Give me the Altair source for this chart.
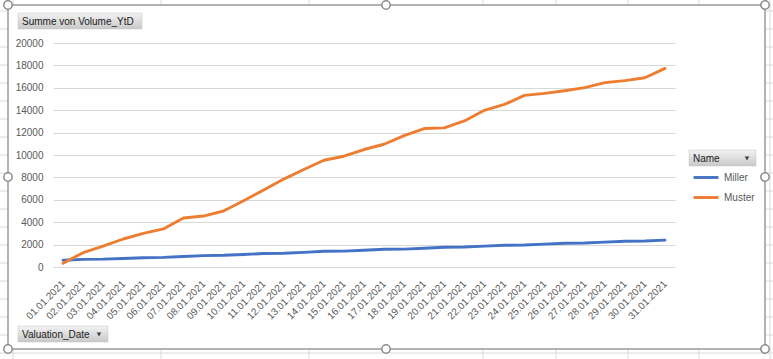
import altair as alt
import pandas as pd

# ---------------- data ----------------
dates = ["01.01.2021", "02.01.2021", "03.01.2021", "04.01.2021", "05.01.2021",
         "06.01.2021", "07.01.2021", "08.01.2021", "09.01.2021", "10.01.2021",
         "11.01.2021", "12.01.2021", "13.01.2021", "14.01.2021", "15.01.2021",
         "16.01.2021", "17.01.2021", "18.01.2021", "19.01.2021", "20.01.2021",
         "21.01.2021", "22.01.2021", "23.01.2021", "24.01.2021", "25.01.2021",
         "26.01.2021", "27.01.2021", "28.01.2021", "29.01.2021", "30.01.2021",
         "31.01.2021"]
miller = [600, 680, 700, 760, 830, 860, 940, 1020, 1050, 1120, 1200, 1230, 1310,
          1400, 1420, 1500, 1580, 1600, 1680, 1760, 1780, 1860, 1940, 1960, 2040,
          2120, 2140, 2220, 2300, 2320, 2400]
muster = [330, 1280, 1870, 2500, 3000, 3400, 4380, 4550, 5000, 5920, 6880, 7850,
          8700, 9530, 9890, 10490, 10960, 11730, 12360, 12420, 13040, 13990, 14520,
          15320, 15500, 15740, 16010, 16460, 16640, 16900, 17730]
names = ["Miller", "Muster"]
colors = ["#4472C4", "#ED7D31"]
y_ticks = [0, 2000, 4000, 6000, 8000, 10000, 12000, 14000, 16000, 18000, 20000]

df = pd.DataFrame({
    "Valuation_Date": dates + dates,
    "Name": [names[0]] * len(dates) + [names[1]] * len(dates),
    "Volume": miller + muster,
})

# ---------------- layout ----------------
PW, PH = 773, 359
OX, OY = 53, 43          # plot origin in page pixels
W, H = 622, 224          # plot area
FONT = "Liberation Sans"
TXT = "#595959"


def rx(v):
    return v - OX


def ry(v):
    return v - OY


one = alt.Data(values=[{}])

# spreadsheet grid visible around the chart object
cols = [13, 161, 309, 483, 556, 628, 699]
rows = [11 + 18 * k for k in range(20)]
segs = []
for c in cols:
    segs.append((c, c, 0, 5))
    segs.append((c, c, 349, PH))
segs.append((770, 770, 0, PH))
for r in rows:
    if 5 < r < 349:
        segs.append((0, 8, r, r))
        segs.append((765, PW, r, r))
    elif r >= 349:
        segs.append((0, PW, r, r))
seg_df = pd.DataFrame([{"x": rx(a), "x2": rx(b), "y": ry(c), "y2": ry(d)} for a, b, c, d in segs])

sheet = alt.Chart(seg_df).mark_rule(color="#dadada", strokeWidth=1).encode(
    x=alt.X("x:Q", scale=None), x2="x2:Q",
    y=alt.Y("y:Q", scale=None), y2="y2:Q",
)

frame = alt.Chart(one).mark_rect(fillOpacity=0, stroke="#9a9a9a", strokeWidth=1.5).encode(
    x=alt.value(rx(8)), x2=alt.value(rx(765)),
    y=alt.value(ry(5)), y2=alt.value(ry(349)),
)

lines = alt.Chart(df).mark_line(strokeWidth=2.9, strokeCap="round", strokeJoin="round").encode(
    x=alt.X("Valuation_Date:O", sort=dates, title=None,
            scale=alt.Scale(padding=0.5),
            axis=alt.Axis(labelAngle=315, labelAlign="right", labelBaseline="middle",
                          labelPadding=15, labelFont=FONT, labelFontSize=10,
                          labelColor=TXT, ticks=False, tickSize=0,
                          domainColor="#d9d9d9", grid=False, labelOverlap=False)),
    y=alt.Y("Volume:Q", title=None,
            scale=alt.Scale(domain=[0, 20000], nice=False),
            axis=alt.Axis(values=y_ticks, format="d", grid=True, gridColor="#d9d9d9",
                          domain=False, ticks=False, tickSize=0, labelPadding=10,
                          labelFont=FONT, labelFontSize=10, labelColor=TXT)),
    color=alt.Color("Name:N", scale=alt.Scale(domain=names, range=colors),
                    legend=alt.Legend(title=None, orient="none",
                                      legendX=rx(692), legendY=ry(163.5),
                                      padding=0, symbolType="stroke",
                                      symbolSize=625, symbolStrokeWidth=2.9,
                                      rowPadding=-5, labelFont=FONT,
                                      labelFontSize=10, labelColor=TXT)),
)

grad = alt.LinearGradient(
    gradient="linear",
    stops=[alt.GradientStop(color="#f3f3f3", offset=0),
           alt.GradientStop(color="#c8c8c8", offset=1)],
    x1=0, x2=0, y1=0, y2=1,
)


def button(x0, x1, y0, y1, label, arrow):
    layers = [
        alt.Chart(one).mark_rect(fill=grad, stroke="#c4c4c4", strokeWidth=0.5).encode(
            x=alt.value(rx(x0)), x2=alt.value(rx(x1)),
            y=alt.value(ry(y0)), y2=alt.value(ry(y1))),
        alt.Chart(one).mark_text(text=label, align="left", baseline="middle",
                                 font=FONT, fontSize=10, color="#1a1a1a").encode(
            x=alt.value(rx(x0 + 4)), y=alt.value(ry((y0 + y1) / 2 + 0.5))),
    ]
    if arrow:
        layers.append(
            alt.Chart(one).mark_point(shape="triangle-down", filled=True, size=22,
                                      color="#404040", opacity=1).encode(
                x=alt.value(rx(x1 - 9)), y=alt.value(ry((y0 + y1) / 2 + 0.5))))
    return layers


btns = []
btns += button(18, 142, 13, 29, "Summe von Volume_YtD", False)
btns += button(689, 756, 150, 166, "Name", True)
btns += button(18, 108, 326, 342, "Valuation_Date", True)

handles_abs = [(8, 5), (386, 5), (765, 5), (8, 177), (765, 177),
               (8, 349), (386, 349), (765, 349)]
hdf = pd.DataFrame([{"x": rx(a), "y": ry(b)} for a, b in handles_abs])
handles = alt.Chart(hdf).mark_point(shape="circle", filled=True, fill="white",
                                    stroke="#8c8c8c", strokeWidth=1.5, size=70,
                                    opacity=1).encode(
    x=alt.X("x:Q", scale=None), y=alt.Y("y:Q", scale=None))

chart = alt.layer(sheet, frame, lines, *btns, handles).properties(
    width=W, height=H,
    autosize=alt.AutoSizeParams(type="none"),
    padding={"left": OX, "top": OY, "right": PW - OX - W, "bottom": PH - OY - H},
    background="white",
).configure_view(strokeWidth=0).resolve_scale(x="independent", y="independent")

chart.save("out.html", embed_options={"renderer": "svg", "actions": False})
